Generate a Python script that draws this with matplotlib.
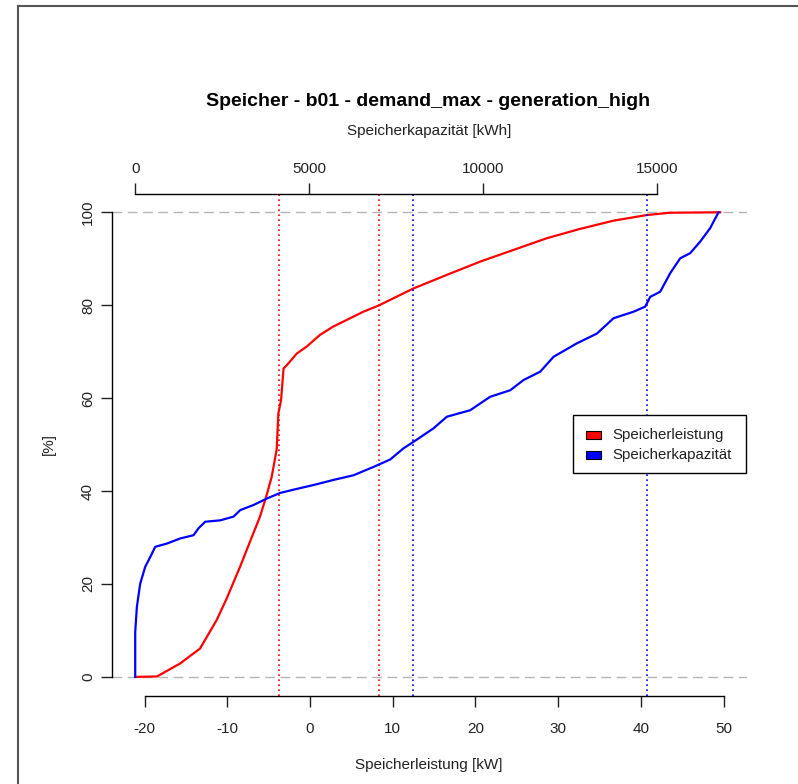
import matplotlib
matplotlib.use('Agg')
import matplotlib.pyplot as plt
from matplotlib.patches import Rectangle
from matplotlib.lines import Line2D

plt.rcParams['font.family'] = ['Liberation Sans', 'DejaVu Sans']
plt.rcParams['axes.unicode_minus'] = False

# Speicherleistung [kW] vs. cumulative share [%]
leistung_kw = [-21.1, -18.5, -15.7, -13.3, -11.3, -10.07, -8.46, -7.26, -6.05, -5.3,
               -4.63, -4.03, -3.83, -3.5, -3.2, -2.8, -1.6, -0.4, 1.2, 2.8, 4.4,
               6.45, 8.26, 12.5, 16.5, 20.6, 24.6, 28.6, 32.6, 36.7, 40.7, 43.5, 49.6]
leistung_pct = [0.0, 0.1, 2.9, 6.1, 12.2, 16.9, 23.7, 29.1, 34.5, 38.8,
                43.1, 49.0, 56.7, 59.6, 66.4, 67.1, 69.6, 71.1, 73.6, 75.4, 76.8,
                78.6, 79.9, 83.6, 86.5, 89.4, 91.9, 94.4, 96.4, 98.2, 99.4, 99.9, 100.0]

# Speicherkapazitaet [kWh] vs. cumulative share [%]
kapazitaet_kwh = [0, 0, 48, 144, 287, 431, 575, 910, 1293, 1676, 1820, 2012, 2443,
                  2826, 3018, 3400, 3785, 4167, 4550, 5124, 5699, 6274, 6849, 7329,
                  7711, 7998, 8573, 8956, 9628, 10203, 10778, 11161, 11640, 12023,
                  12694, 13269, 13748, 14322, 14658, 14801, 15088, 15376, 15663,
                  15950, 16238, 16525, 16764]
kapazitaet_pct = [0.0, 9.7, 15.1, 20.1, 23.7, 25.8, 28.0, 28.7, 29.8, 30.5, 32.0, 33.4,
                  33.7, 34.5, 35.9, 37.0, 38.4, 39.6, 40.3, 41.3, 42.4, 43.4, 45.2, 46.8,
                  49.2, 50.6, 53.5, 56.0, 57.4, 60.3, 61.7, 63.9, 65.7, 68.9, 71.8, 73.9,
                  77.2, 78.6, 79.7, 81.8, 82.9, 86.9, 90.1, 91.2, 93.7, 96.6, 100.0]

leistung_vlines = [-3.75, 8.38]
kapazitaet_vlines = [7970, 14706]

legend_labels = ['Speicherleistung', 'Speicherkapazität']
legend_colors = ['red', 'blue']

W, H = 798, 784
fig = plt.figure(figsize=(W / 100, H / 100), dpi=100)
ax = fig.add_axes([111.7 / W, 1 - 695.5 / H, 635 / W, 501.8 / H])
ax2 = ax.twiny()

ax.set_xlim(-23.98, 52.8)
ax.set_ylim(-4, 104)
ax2.set_xlim(-676, 17574)
ax2.set_ylim(-4, 104)

for y in (0, 100):
    ax.axhline(y, color='#b4b4b4', lw=1, ls=(0, (7, 4)), zorder=1)

for v in leistung_vlines:
    ax.axvline(v, color='red', lw=1.2, ls=(0, (1, 2)), zorder=2)
for v in kapazitaet_vlines:
    ax2.axvline(v, color='blue', lw=1.2, ls=(0, (1, 2)), zorder=2)

ax.plot(leistung_kw, leistung_pct, color='red', lw=1.6, zorder=3)
ax2.plot(kapazitaet_kwh, kapazitaet_pct, color='blue', lw=1.6, zorder=3)

# R style axes
ax.set_xticks([-20, -10, 0, 10, 20, 30, 40, 50])
ax.set_yticks([0, 20, 40, 60, 80, 100])
ax2.set_xticks([0, 5000, 10000, 15000])
ax.spines['left'].set_bounds(0, 100)
ax.spines['bottom'].set_bounds(-20, 50)
ax2.spines['top'].set_bounds(0, 15000)
for s in ('top', 'right'):
    ax.spines[s].set_visible(False)
for s in ('bottom', 'left', 'right'):
    ax2.spines[s].set_visible(False)
for a in (ax, ax2):
    for s in a.spines.values():
        s.set_linewidth(1)
ax.tick_params(axis='both', length=8, width=1, labelsize=11, colors='#222222')
ax.tick_params(axis='x', pad=11)
ax.tick_params(axis='y', pad=4)
ax2.tick_params(axis='x', length=8, width=1, labelsize=11, pad=5, colors='#222222')
for lab in ax.get_yticklabels():
    lab.set_rotation(90)
    lab.set_va('center')

fig.text(428 / W, 1 - 101 / H, 'Speicher - b01 - demand_max - generation_high',
         ha='center', va='center', fontsize=14, fontweight='bold')
fig.text(429 / W, 1 - 131 / H, 'Speicherkapazität [kWh]', ha='center', va='center',
         fontsize=11, color='#222222')
fig.text(429 / W, 1 - 765 / H, 'Speicherleistung [kW]', ha='center', va='center',
         fontsize=11, color='#222222')
fig.text(49 / W, 1 - 444 / H, '[%]', ha='center', va='center', rotation=90,
         fontsize=11, color='#222222')

# legend box drawn like R's legend()
fig.add_artist(Rectangle((573 / W, 1 - 473 / H), 173 / W, 58 / H, transform=fig.transFigure,
                         facecolor='white', edgecolor='black', lw=1, zorder=5))
for i, (lab, col) in enumerate(zip(legend_labels, legend_colors)):
    yc = 435 + i * 20
    fig.add_artist(Rectangle((586 / W, 1 - (yc + 4) / H), 15 / W, 8 / H,
                             transform=fig.transFigure, facecolor=col,
                             edgecolor='black', lw=0.8, zorder=6))
    fig.text(612 / W, 1 - yc / H, lab, ha='left', va='center', fontsize=10.8,
             color='#222222', zorder=6)

# screenshot frame
fig.add_artist(Line2D([18 / W, 18 / W], [0, 1 - 5.5 / H], color='#555555', lw=1.5))
fig.add_artist(Line2D([18 / W, 1], [1 - 5.5 / H, 1 - 5.5 / H], color='#555555', lw=1.5))

fig.savefig('out.png', dpi=100)
